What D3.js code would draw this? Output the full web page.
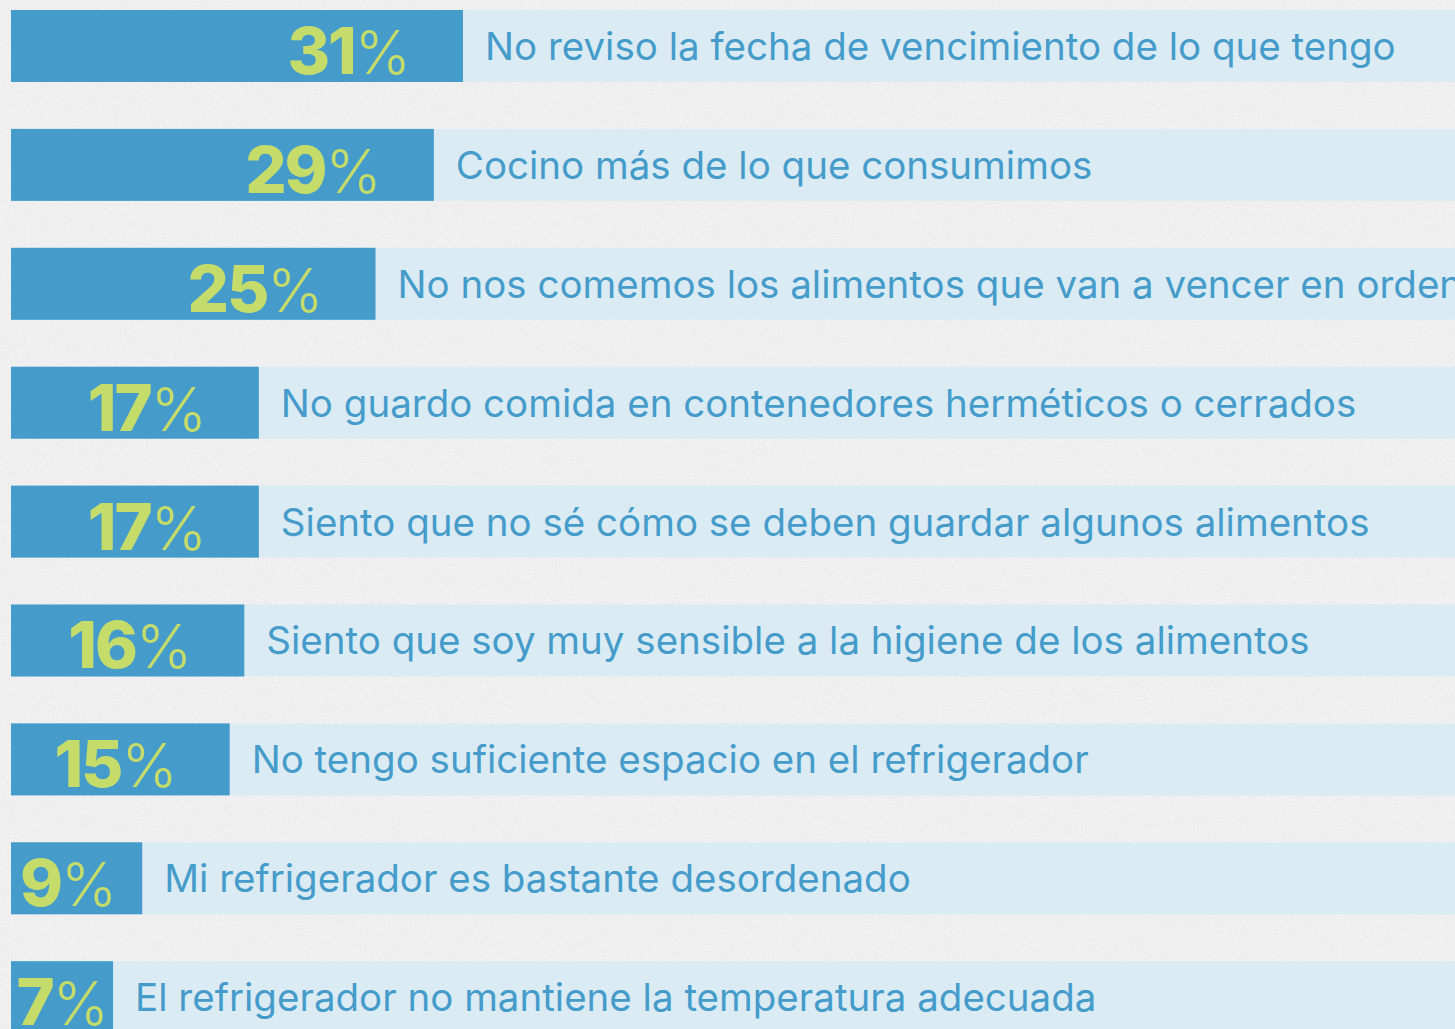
<!DOCTYPE html>
<html><head><meta charset="utf-8">
<script src="https://cdn.jsdelivr.net/npm/d3@7"></script>
<style>html,body{margin:0;padding:0;background:#efefef;overflow:hidden}</style>
</head><body>
<script>
const categories = [
  "No reviso la fecha de vencimiento de lo que tengo",
  "Cocino más de lo que consumimos",
  "No nos comemos los alimentos que van a vencer en orden",
  "No guardo comida en contenedores herméticos o cerrados",
  "Siento que no sé cómo se deben guardar algunos alimentos",
  "Siento que soy muy sensible a la higiene de los alimentos",
  "No tengo suficiente espacio en el refrigerador",
  "Mi refrigerador es bastante desordenado",
  "El refrigerador no mantiene la temperatura adecuada"
];
const values = [31, 29, 25, 17, 17, 16, 15, 9, 7];

const W = 1455, H = 1029;
const svg = d3.select("body").append("svg").attr("width", W).attr("height", H);

// textured paper background
const defs = svg.append("defs");
const f = defs.append("filter").attr("id","noise").attr("x",0).attr("y",0).attr("width","100%").attr("height","100%");
f.append("feTurbulence").attr("type","fractalNoise").attr("baseFrequency",0.9).attr("numOctaves",2).attr("seed",4).attr("result","t");
f.append("feColorMatrix").attr("in","t").attr("type","matrix")
  .attr("values","0 0 0 0 0.55  0 0 0 0 0.55  0 0 0 0 0.55  0 0 0 -1.6 0.95");
svg.append("rect").attr("width",W).attr("height",H).attr("fill","#f2f2f2");
svg.append("rect").attr("width",W).attr("height",H).attr("filter","url(#noise)").attr("opacity",0.35);

const x = d3.scaleLinear().domain([0, 31]).range([11, 463]);
const y = d3.scaleBand().domain(categories).range([10, 1033.2]).paddingInner(0.3944).paddingOuter(0);

const data = categories.map((c, i) => ({c, v: values[i]}));
const rows = svg.selectAll("g.row").data(data).join("g").attr("class","row")
  .attr("transform", d => `translate(0,${y(d.c)})`);
const bw = y.bandwidth();

rows.append("rect").attr("x", x(0)).attr("y", 0).attr("width", W - x(0) + 10).attr("height", bw).attr("fill", "#dbebf4");
rows.append("rect").attr("x", x(0)).attr("y", 0).attr("width", d => x(d.v) - x(0)).attr("height", bw).attr("fill", "#459cca");

rows.append("text").attr("x", d => x(d.v) + 22).attr("y", bw/2 + 14)
  .attr("font-family", "Inter, 'Open Sans', sans-serif").attr("font-size", 38.5).attr("fill", "#459cca")
  .text(d => d.c);

const num = rows.append("text").attr("y", bw/2 + 28)
  .attr("font-family", "Inter, Lato, sans-serif").attr("fill", "#c5dc6a").attr("text-anchor","end");
num.append("tspan").attr("font-weight", 800).attr("font-size", 65).attr("letter-spacing", -2).text(d => d.v);
num.append("tspan").attr("font-weight", 300).attr("font-size", 60).text("%");
num.each(function(d) {
  const w = this.getComputedTextLength();
  const xe = Math.max(x(d.v) - 52, x(0) + w + 9);
  d3.select(this).attr("x", Math.min(xe, x(d.v) - 4));
});
</script>
</body></html>
